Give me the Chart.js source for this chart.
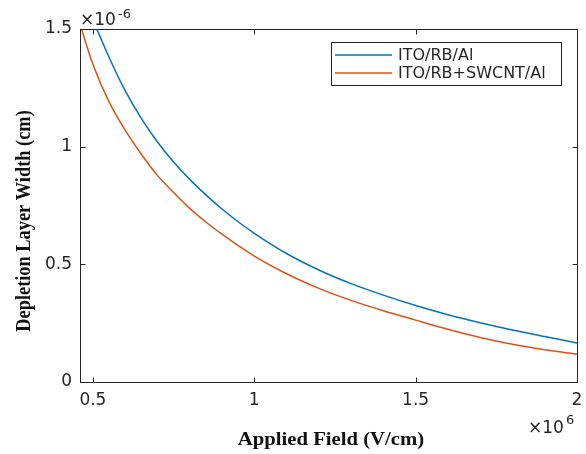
<!DOCTYPE html>
<html>
<head>
<meta charset="utf-8">
<script src="https://cdn.jsdelivr.net/npm/chart.js"></script>
<style>
  html, body { margin: 0; padding: 0; background: #ffffff; }
  #chart { display: block; }
</style>
</head>
<body>
<canvas id="chart" width="586" height="454"></canvas>
<script>
// applied field (x10^6 V/cm) and depletion width (x10^-6 cm)
var fieldValues = [0.46, 0.5, 0.55, 0.6, 0.65, 0.7, 0.75, 0.8, 0.85, 0.9, 0.95, 1.0,
                   1.1, 1.2, 1.3, 1.4, 1.5, 1.6, 1.7, 1.8, 1.9, 2.0];
var widthRB = [1.67, 1.54, 1.38, 1.238, 1.12, 1.02, 0.935, 0.861, 0.795, 0.735, 0.681, 0.632,
               0.546, 0.476, 0.418, 0.369, 0.325, 0.286, 0.252, 0.221, 0.193, 0.166];
var widthSWCNT = [1.52, 1.35, 1.19, 1.07, 0.968, 0.878, 0.805, 0.738, 0.68, 0.628, 0.58, 0.535,
                  0.46, 0.398, 0.347, 0.303, 0.263, 0.224, 0.189, 0.160, 0.137, 0.118];
var seriesLabels = ["ITO/RB/Al", "ITO/RB+SWCNT/Al"];
var seriesColors = ["#0072BD", "#D95319"];
var xTicks = [0.5, 1, 1.5, 2];
var yTicks = [0, 0.5, 1, 1.5];

var axisColor = "#262626";
var tickFont = { family: "DejaVu Sans", size: 17 };

function toPoints(ys) {
    return fieldValues.map(function(x, i) { return { x: x, y: ys[i] }; });
}

// box round the plot, inward ticks on all four sides, legend, exponents and titles
var matlabAxes = {
    id: "matlabAxes",
    afterDatasetsDraw: function(chart) {
        var ctx = chart.ctx;
        var a = chart.chartArea;
        var xs = chart.scales.x, ys = chart.scales.y;
        var L = Math.round(a.left) + 0.5, R = Math.round(a.right) + 0.5;
        var T = Math.round(a.top) + 0.5, B = Math.round(a.bottom) + 0.5;
        ctx.save();
        ctx.strokeStyle = axisColor;
        ctx.lineWidth = 1;
        ctx.strokeRect(L, T, R - L, B - T);
        ctx.beginPath();
        xTicks.forEach(function(v) {
            var px = Math.round(xs.getPixelForValue(v)) + 0.5;
            ctx.moveTo(px, B); ctx.lineTo(px, B - 5);
            ctx.moveTo(px, T); ctx.lineTo(px, T + 5);
        });
        yTicks.forEach(function(v) {
            var py = Math.round(ys.getPixelForValue(v)) + 0.5;
            ctx.moveTo(L, py); ctx.lineTo(L + 5, py);
            ctx.moveTo(R, py); ctx.lineTo(R - 5, py);
        });
        ctx.stroke();

        // legend
        var lx = 331.5, ly = 42.5, lw = 230, lh = 43;
        ctx.fillStyle = "#ffffff";
        ctx.fillRect(lx, ly, lw, lh);
        ctx.strokeRect(lx, ly, lw, lh);
        ctx.font = "16px 'DejaVu Sans'";
        ctx.textBaseline = "middle";
        ctx.textAlign = "left";
        chart.data.datasets.forEach(function(ds, i) {
            var yy = 55 + i * 18;
            ctx.strokeStyle = ds.borderColor;
            ctx.lineWidth = 1.5;
            ctx.beginPath();
            ctx.moveTo(335, yy); ctx.lineTo(392, yy);
            ctx.stroke();
            ctx.fillStyle = axisColor;
            ctx.fillText(ds.label, 398, yy + 1);
        });

        // exponent labels
        ctx.fillStyle = axisColor;
        ctx.textBaseline = "alphabetic";
        ctx.font = "17px 'DejaVu Sans'";
        ctx.fillText("\u00d710", 80, 25);
        ctx.font = "13px 'DejaVu Sans'";
        ctx.fillText("-6", 118, 18);
        ctx.font = "17px 'DejaVu Sans'";
        ctx.fillText("\u00d710", 528, 433);
        ctx.font = "13px 'DejaVu Sans'";
        ctx.fillText("6", 566, 424);

        // axis titles (the original figure is stretched sideways a little)
        ctx.fillStyle = "#111111";
        ctx.font = "bold 18px 'Liberation Serif'";
        ctx.textAlign = "center";
        ctx.textBaseline = "middle";
        ctx.save();
        ctx.translate(331, 440);
        ctx.scale(1.15, 1);
        ctx.fillText("Applied Field (V/cm)", 0, 0);
        ctx.restore();
        ctx.translate(25, 221);
        ctx.rotate(-Math.PI / 2);
        ctx.scale(1.02, 1.12);
        ctx.fillText("Depletion Layer Width (cm)", 0, 0);
        ctx.restore();
    }
};

new Chart(document.getElementById("chart"), {
    type: "line",
    data: {
        datasets: [
            { label: seriesLabels[0], data: toPoints(widthRB), borderColor: seriesColors[0],
              borderWidth: 1.5, pointRadius: 0, fill: false, cubicInterpolationMode: "monotone" },
            { label: seriesLabels[1], data: toPoints(widthSWCNT), borderColor: seriesColors[1],
              borderWidth: 1.5, pointRadius: 0, fill: false, cubicInterpolationMode: "monotone" }
        ]
    },
    options: {
        responsive: false,
        animation: false,
        devicePixelRatio: 1,
        layout: { padding: { left: 0, top: 29, right: 9, bottom: 0 } },
        plugins: { legend: { display: false }, tooltip: { enabled: false } },
        scales: {
            x: {
                type: "linear",
                min: 0.46,
                max: 2,
                afterBuildTicks: function(s) { s.ticks = xTicks.map(function(v) { return { value: v }; }); },
                afterFit: function(s) { s.height = 72; s.paddingRight = 0; s.paddingLeft = 0; },
                grid: { display: false, drawTicks: false },
                border: { display: false },
                ticks: { font: tickFont, color: axisColor, padding: 8, maxRotation: 0,
                         callback: function(v) { return String(v); } }
            },
            y: {
                min: 0,
                max: 1.5,
                afterBuildTicks: function(s) { s.ticks = yTicks.map(function(v) { return { value: v }; }); },
                afterFit: function(s) { s.width = 80; s.paddingTop = 0; s.paddingBottom = 0; },
                grid: { display: false, drawTicks: false },
                border: { display: false },
                ticks: { font: tickFont, color: axisColor, padding: 8,
                         callback: function(v) { return String(v); } }
            }
        }
    },
    plugins: [matlabAxes]
});
</script>
</body>
</html>
